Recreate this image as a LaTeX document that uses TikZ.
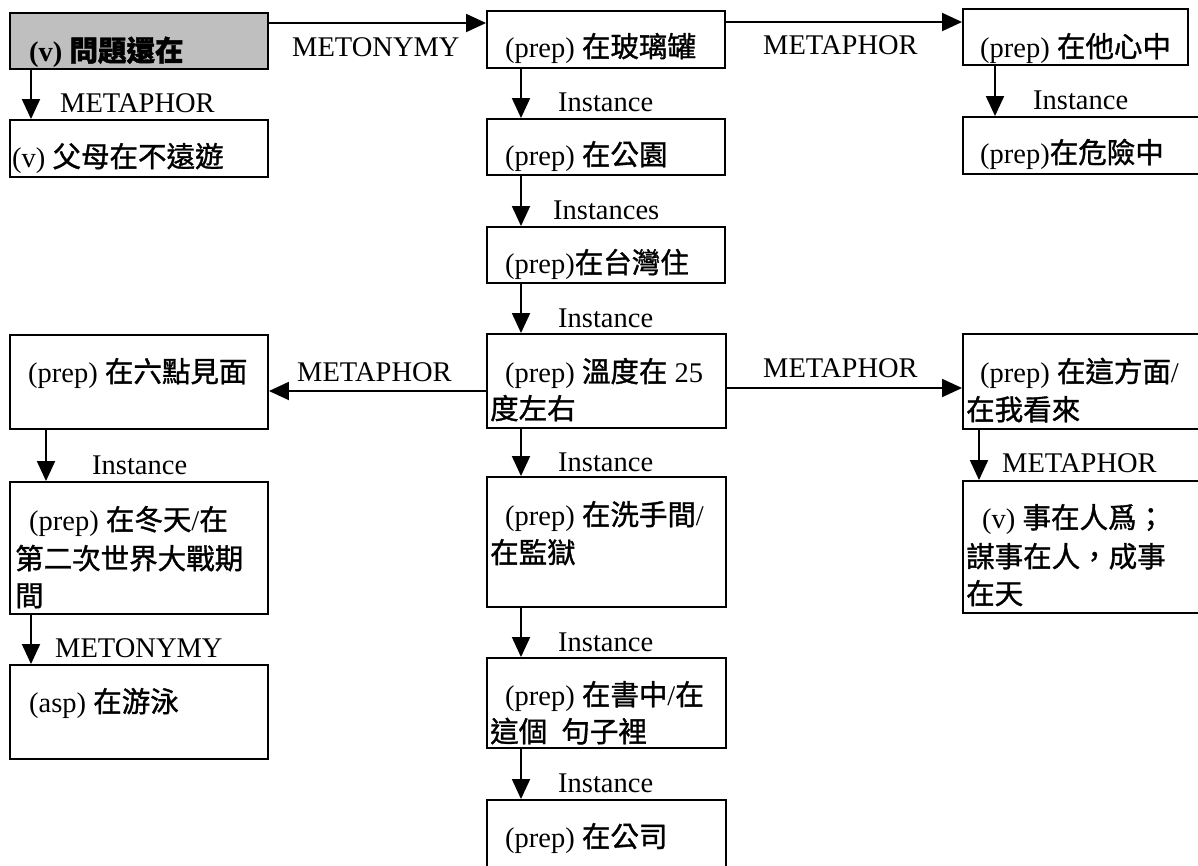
\documentclass[tikz,border=0pt]{standalone}
\usepackage{fontspec}
\setmainfont{Liberation Serif}
\newfontfamily\cjk[FakeBold=1.2]{Noto Sans CJK TC}
\usetikzlibrary{arrows.meta}
\newcommand\zh[1]{{\cjk #1}}
\begin{document}
\begin{tikzpicture}[x=1pt,y=-1pt,
  box/.style={draw, line width=1.9pt, inner sep=0pt},
  txt/.style={inner sep=0pt, anchor=base west, font=\fontsize{28.5}{37.5}\selectfont},
  lbl/.style={inner sep=0pt, anchor=west, font=\fontsize{28.5}{34}\selectfont},
  arr/.style={line width=1.9pt, -{Triangle[length=20pt,width=18pt]}}]
\useasboundingbox (0,0) rectangle (1198,865);
\clip (0,0) rectangle (1198,865);
% boxes
\node[box, fill=black!25, minimum width=258pt, minimum height=56pt] (A) at (139,41) {};
\node[box, minimum width=258pt, minimum height=57pt] (B) at (139,148.5) {};
\node[box, minimum width=238pt, minimum height=57pt] (C) at (606,39.5) {};
\node[box, minimum width=238pt, minimum height=56pt] (D) at (606,147) {};
\node[box, minimum width=238pt, minimum height=56pt] (E) at (606,255) {};
\node[box, minimum width=225pt, minimum height=56pt] (F) at (1075.5,37) {};
\node[box, minimum width=247pt, minimum height=57pt] (G) at (1086.5,145.5) {};
\node[box, minimum width=258pt, minimum height=94pt] (H) at (139,382) {};
\node[box, minimum width=239pt, minimum height=94pt] (I) at (606.5,381) {};
\node[box, minimum width=247pt, minimum height=95pt] (L) at (1086.5,381.5) {};
\node[box, minimum width=258pt, minimum height=132pt] (J) at (139,548) {};
\node[box, minimum width=239pt, minimum height=130pt] (M) at (606.5,542) {};
\node[box, minimum width=247pt, minimum height=132pt] (P) at (1086.5,547) {};
\node[box, minimum width=258pt, minimum height=94pt] (K) at (139,712) {};
\node[box, minimum width=239pt, minimum height=90pt] (N) at (606.5,703) {};
\node[box, minimum width=239pt, minimum height=90pt] (O) at (606.5,845) {};
% box texts
\node[txt] (tA) at (29,61) {\bfseries (v) \zh{問題還在}};
\node[txt] (tB) at (12,167) {(v) \zh{父母在不遠遊}};
\node[txt] (tC) at (505,57) {(prep) \zh{在玻璃罐}};
\node[txt] (tD) at (505,165) {(prep) \zh{在公園}};
\node[txt] (tE) at (505,273) {(prep)\zh{在台灣住}};
\node[txt] (tF) at (980,57) {(prep) \zh{在他心中}};
\node[txt] (tG) at (980,163) {(prep)\zh{在危險中}};
\node[txt] (tH) at (28,382) {(prep) \zh{在六點見面}};
\node[txt] (tJ1) at (29,530) {(prep) \zh{在冬天}/\zh{在}};
\node[txt] (tJ2) at (15,569) {\zh{第二次世界大戰期}};
\node[txt] (tJ3) at (15,606) {\zh{間}};
\node[txt] (tK) at (29,712) {(asp) \zh{在游泳}};
\node[txt] (tI1) at (505,382) {(prep) \zh{溫度在} 25};
\node[txt] (tI2) at (490,419) {\zh{度左右}};
\node[txt] (tM1) at (505,525) {(prep) \zh{在洗手間}/};
\node[txt] (tM2) at (490,563) {\zh{在監獄}};
\node[txt] (tN1) at (505,705) {(prep) \zh{在書中}/\zh{在}};
\node[txt] (tN2) at (490,742) {\zh{這個}\ \ \zh{句子裡}};
\node[txt] (tO) at (505,847) {(prep) \zh{在公司}};
\node[txt] (tL1) at (980,382) {(prep) \zh{在這方面}/};
\node[txt] (tL2) at (966,420) {\zh{在我看來}};
\node[txt] (tP1) at (982,528) {(v) \zh{事在人爲；}};
\node[txt] (tP2) at (966,567) {\zh{謀事在人，成事}};
\node[txt] (tP3) at (966,604) {\zh{在天}};
% connectors
\draw[arr] (A.east |- 0,23) -- (C.west |- 0,23);
\draw[arr] (A.south -| 31,0) -- (B.north -| 31,0);
\draw[arr] (C.east |- 0,22) -- (F.west |- 0,22);
\draw[arr] (C.south -| 521,0) -- (D.north -| 521,0);
\draw[arr] (D.south -| 521,0) -- (E.north -| 521,0);
\draw[arr] (E.south -| 521,0) -- (I.north -| 521,0);
\draw[arr] (F.south -| 995,0) -- (G.north -| 995,0);
\draw[arr] (I.west |- 0,391) -- (H.east |- 0,391);
\draw[arr] (I.east |- 0,388) -- (L.west |- 0,388);
\draw[arr] (H.south -| 46,0) -- (J.north -| 46,0);
\draw[arr] (J.south -| 31,0) -- (K.north -| 31,0);
\draw[arr] (I.south -| 521,0) -- (M.north -| 521,0);
\draw[arr] (M.south -| 521,0) -- (N.north -| 521,0);
\draw[arr] (N.south -| 521,0) -- (O.north -| 521,0);
\draw[arr] (L.south -| 979,0) -- (P.north -| 979,0);
% connector labels
\node[lbl] (l1) at (292,47) {METONYMY};
\node[lbl] (l2) at (60,103) {METAPHOR};
\node[lbl] (l3) at (763,45) {METAPHOR};
\node[lbl] (l4) at (558,102) {Instance};
\node[lbl] (l5) at (553,210) {Instances};
\node[lbl] (l6) at (558,318) {Instance};
\node[lbl] (l7) at (1033,100) {Instance};
\node[lbl] (l8) at (297,372) {METAPHOR};
\node[lbl] (l9) at (763,368) {METAPHOR};
\node[lbl] (l10) at (92,465) {Instance};
\node[lbl] (l11) at (55,648) {METONYMY};
\node[lbl] (l12) at (558,462) {Instance};
\node[lbl] (l13) at (558,642) {Instance};
\node[lbl] (l14) at (558,783) {Instance};
\node[lbl] (l15) at (1002,463) {METAPHOR};
\end{tikzpicture}
\end{document}
